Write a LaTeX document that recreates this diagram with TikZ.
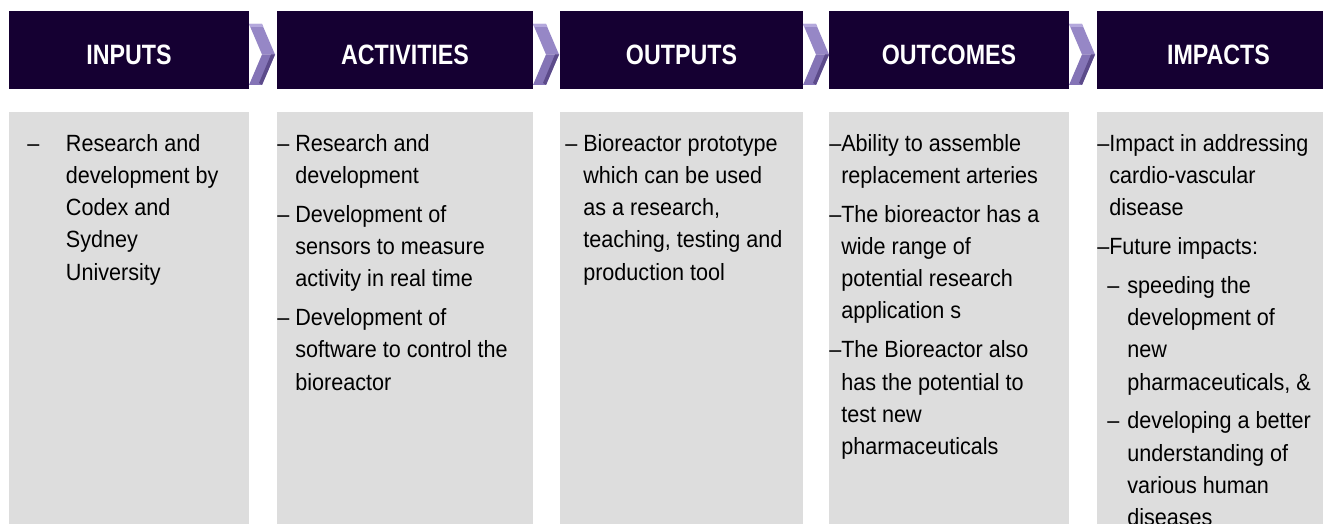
\documentclass[tikz,border=0pt]{standalone}
\usepackage{fontspec}
\newfontfamily\bodyfont{Liberation Sans}[FakeStretch=0.92]
\newfontfamily\headfont{Liberation Sans}[FakeStretch=0.83]
\definecolor{hdrfill}{RGB}{21,0,50}
\definecolor{panel}{RGB}{221,221,221}
\definecolor{chevmid}{RGB}{150,135,198}
\definecolor{chevlow}{RGB}{132,116,182}
\definecolor{chevdark}{RGB}{92,75,138}
\definecolor{chevlight}{RGB}{180,168,220}
\newcommand\firststrut{\rule{0pt}{13pt}}
% bevelled chevron placed after a header box ending at x = #1
\newcommand\drawchev[1]{%
  \begin{scope}[shift={(#1,0)}]
    \fill[chevmid] (0,24) -- (13,24) -- (26,54.5) -- (13,54.5) -- cycle;
    \fill[chevlow] (13,54.5) -- (26,54.5) -- (13,85) -- (0,85) -- cycle;
    \fill[chevdark] (26,54.5) -- (13,85) -- (10,83) -- (22,54.5) -- cycle;
    \fill[chevlight] (0,24) -- (13,24) -- (14.3,27) -- (1.3,27) -- cycle;
  \end{scope}}
\tikzset{
  hdrbox/.style={fill=hdrfill, draw=none, inner sep=0pt, minimum height=58.5pt},
  panelbox/.style={fill=panel, draw=none, inner sep=0pt, minimum height=321pt},
  hdrtext/.style={anchor=base, inner sep=0pt, text=white,
    font=\headfont\bfseries\fontsize{21pt}{25pt}\selectfont},
  bodytext/.style={anchor=north west, inner sep=0pt, align=left, text=black,
    font=\bodyfont\fontsize{17.6pt}{24.15pt}\selectfont},
}
\begin{document}
\begin{tikzpicture}[x=0.75pt,y=-0.75pt]
\useasboundingbox (0,0) rectangle (1323,524);
\clip (0,0) rectangle (1323,524);

% header bars
\node[hdrbox, minimum width=180pt]    (h1) at (129,50)    {};
\node[hdrbox, minimum width=192pt]    (h2) at (405,50)    {};
\node[hdrbox, minimum width=182.25pt] (h3) at (681.5,50)  {};
\node[hdrbox, minimum width=180pt]    (h4) at (949,50)    {};
\node[hdrbox, minimum width=182.25pt] (h5) at (1218.5,50) {};

\node[hdrtext] (l1) at (129,65)    {INPUTS};
\node[hdrtext] (l2) at (405,65)    {ACTIVITIES};
\node[hdrtext] (l3) at (681.5,65)  {OUTPUTS};
\node[hdrtext] (l4) at (949,65)    {OUTCOMES};
\node[hdrtext] (l5) at (1218.5,65) {IMPACTS};

% chevrons between the bars
\drawchev{249}
\drawchev{533}
\drawchev{803}
\drawchev{1069}

% grey panels
\node[panelbox, minimum width=180pt]    (g1) at (129,326)    {};
\node[panelbox, minimum width=192pt]    (g2) at (405,326)    {};
\node[panelbox, minimum width=182.25pt] (g3) at (681.5,326)  {};
\node[panelbox, minimum width=180pt]    (g4) at (949,326)    {};
\node[panelbox, minimum width=182.25pt] (g5) at (1218.5,326) {};

% panel texts
\node[bodytext] (t1) at (27,133.7) {%
\firststrut\makebox[29pt][l]{–}Research and\\
\hspace*{29pt}development by\\
\hspace*{29pt}Codex and\\
\hspace*{29pt}Sydney\\
\hspace*{29pt}University};

\node[bodytext] (t2) at (277,133.7) {%
\firststrut– Research and\\
\phantom{– }development\\[5pt]
– Development of\\
\phantom{– }sensors to measure\\
\phantom{– }activity in real time\\[5pt]
– Development of\\
\phantom{– }software to control the\\
\phantom{– }bioreactor};

\node[bodytext] (t3) at (565,133.7) {%
\firststrut– Bioreactor prototype\\
\phantom{– }which can be used\\
\phantom{– }as a research,\\
\phantom{– }teaching, testing and\\
\phantom{– }production tool};

\node[bodytext] (t4) at (829,133.7) {%
\firststrut–Ability to assemble\\
\phantom{–}replacement arteries\\[5pt]
–The bioreactor has a\\
\phantom{–}wide range of\\
\phantom{–}potential research\\
\phantom{–}application s\\[5pt]
–The Bioreactor also\\
\phantom{–}has the potential to\\
\phantom{–}test new\\
\phantom{–}pharmaceuticals};

\node[bodytext] (t5) at (1097,133.7) {%
\firststrut–Impact in addressing\\
\phantom{–}cardio-vascular\\
\phantom{–}disease\\[5pt]
–Future impacts:\\[5pt]
\makebox[22.5pt][l]{\hspace{7.5pt}–}speeding the\\
\hspace*{22.5pt}development of\\
\hspace*{22.5pt}new\\
\hspace*{22.5pt}pharmaceuticals, \&\\[5pt]
\makebox[22.5pt][l]{\hspace{7.5pt}–}developing a better\\
\hspace*{22.5pt}understanding of\\
\hspace*{22.5pt}various human\\
\hspace*{22.5pt}diseases};
\end{tikzpicture}
\end{document}
